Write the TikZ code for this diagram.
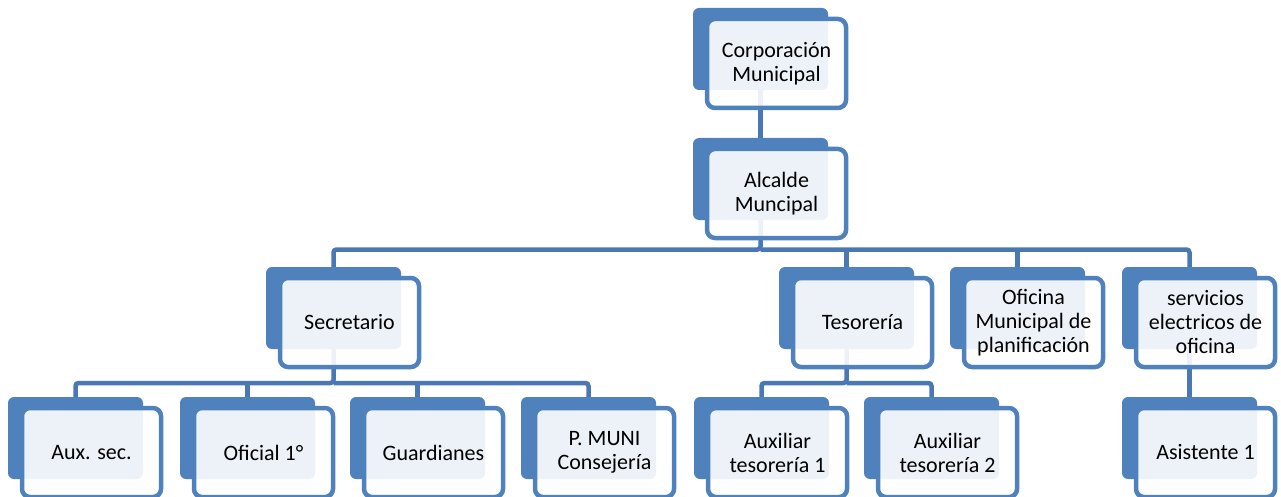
\documentclass[tikz,border=0pt]{standalone}
\usepackage{fontspec}
\setmainfont{Carlito}
\usetikzlibrary{backgrounds}
\definecolor{blu}{HTML}{4F81BD}
\definecolor{lin}{HTML}{4A78B5}
\newcommand\orgnode[3]{%
  \node[back] (#1B) at (#2) {};
  \node[front] (#1) at ([shift={(16,14.5)}]#1B.center) {#3};
}
\begin{document}
\begin{tikzpicture}[x=1pt,y=-1pt,
  back/.style={fill=blu, rounded corners=6pt, minimum width=135pt, minimum height=82pt, inner sep=0pt},
  front/.style={draw=blu, line width=4.5pt, fill=white, fill opacity=0.9, text opacity=1,
    rounded corners=8pt, minimum width=139pt, minimum height=89pt, inner sep=0pt,
    align=center, font=\fontsize{22}{24}\selectfont},
  conn/.style={draw=lin, line width=4.5pt, rounded corners=3pt}]
\useasboundingbox (0,0) rectangle (1281,497);
\orgnode{corp}{760.5,49}{Corporación\\Municipal}
\orgnode{alc}{760.5,179}{Alcalde\\Muncipal}
\orgnode{sec}{333.5,308}{Secretario}
\orgnode{tes}{846.5,308}{Tesorería}
\orgnode{ofi}{1017.5,308}{Oficina\\Municipal de\\planificación}
\orgnode{serv}{1189.5,308}{servicios\\electricos de\\oficina}
\orgnode{aux}{75.5,438}{Aux. sec.}
\orgnode{ofc}{247.5,438}{Oficial 1°}
\orgnode{gua}{417.5,438}{Guardianes}
\orgnode{pmu}{588.5,438}{P. MUNI\\Consejería}
\orgnode{at1}{761.5,438}{Auxiliar\\tesorería 1}
\orgnode{at2}{931.5,438}{Auxiliar\\tesorería 2}
\orgnode{asi}{1189.5,438}{Asistente 1}
\begin{scope}[on background layer]
  \coordinate (busA) at (0,249.5);
  \coordinate (busB) at (0,383);
  \draw[conn] (corpB.center) -- (alcB.north);
  \draw[conn] (alcB.center) -- (alcB.center |- busA) -| (secB.north);
  \draw[conn] (alcB.center |- busA) -| (servB.north);
  \draw[conn] (tesB.north) -- (tesB.north |- busA);
  \draw[conn] (ofiB.north) -- (ofiB.north |- busA);
  \draw[conn] (secB.center) -- (secB.center |- busB) -| (auxB.north);
  \draw[conn] (secB.center |- busB) -| (pmuB.north);
  \draw[conn] (ofcB.north) -- (ofcB.north |- busB);
  \draw[conn] (guaB.north) -- (guaB.north |- busB);
  \draw[conn] (tesB.center) -- (tesB.center |- busB) -| (at1B.north);
  \draw[conn] (tesB.center |- busB) -| (at2B.north);
  \draw[conn] (servB.center) -- (asiB.north);
\end{scope}
\end{tikzpicture}
\end{document}
